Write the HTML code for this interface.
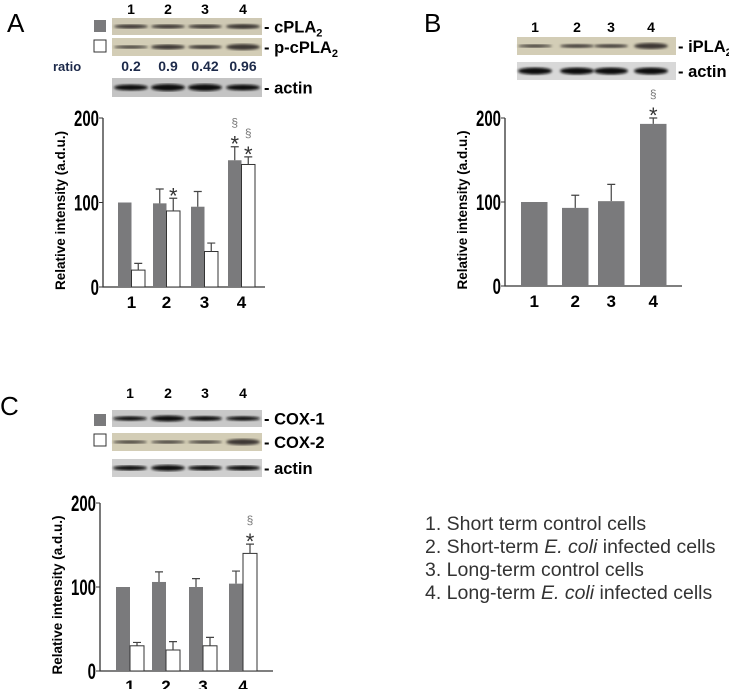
<!DOCTYPE html>
<html><head><meta charset="utf-8"><style>
body{margin:0;background:#fff}
svg{display:block;font-family:"Liberation Sans",sans-serif}
</style></head><body>
<svg id="fig" width="729" height="689" viewBox="0 0 729 689" xmlns="http://www.w3.org/2000/svg">
<defs><filter id="blur"><feGaussianBlur stdDeviation="1.2"/></filter></defs>
<g id="root"></g>
<g font-size="19.5" fill="#333">
<text x="425" y="530">1. Short term control cells</text>
<text x="425" y="553">2. Short-term <tspan font-style="italic">E. coli</tspan> infected cells</text>
<text x="425" y="576">3. Long-term control cells</text>
<text x="425" y="599">4. Long-term <tspan font-style="italic">E. coli</tspan> infected cells</text>
</g>
</svg>
<script>
const categories = ["1","2","3","4"];
const yTicks = [0,100,200];
const aGrey = [100,99,95,150];
const aGreyErr = [0,17,18,16];
const aWhite = [20,90,42,145];
const aWhiteErr = [8,15,10,9];
const bGrey = [100,93,101,193];
const bGreyErr = [0,15,20,7];
const cGrey = [100,106,100,104];
const cGreyErr = [0,12,10,15];
const cWhite = [30,25,30,140];
const cWhiteErr = [4,10,10,11];
const ratios = ["0.2","0.9","0.42","0.96"];

const NS="http://www.w3.org/2000/svg";
const root=document.getElementById('root');
function mk(tag,attrs,parent,text){const e=document.createElementNS(NS,tag);for(const k in attrs)e.setAttribute(k,attrs[k]);if(text!==undefined)e.textContent=text;(parent||root).appendChild(e);return e;}

function chart(name,ax,y0,y200,xEnd,groupX,barW,series,errs,marks){
  const g=mk('g',{});
  
  
  const sy=v=>y0-(y0-y200)*v/200;
  const axis=mk('path',{d:`M${ax} ${y200}V${y0}H${xEnd}`,stroke:'#333','stroke-width':1.3,fill:'none'},g);
  
  
  yTicks.forEach(t=>{
    mk('line',{x1:ax-4,x2:ax,y1:sy(t),y2:sy(t),stroke:'#333'},g);
    const tx=mk('text',{x:ax-4,y:sy(t)+8,'text-anchor':'end','font-size':22,'font-weight':'bold',transform:`translate(${ax-4} 0) scale(0.68 1) translate(${-(ax-4)} 0)`},g,String(t));
    
    
  });
  const yl=mk('text',{x:0,y:0,'font-size':13.5,'font-weight':'bold','text-anchor':'middle',transform:`translate(${ax-38} ${(y0+y200)/2+8}) rotate(-90)`},g,'Relative intensity (a.d.u.)');
  
  
  categories.forEach((c,i)=>{
    const n=series.length;
    const tl=mk('text',{x:groupX[i]+(n*barW)/2,y:y0+21,'text-anchor':'middle','font-size':17,'font-weight':'bold'},g,c);
    
    
    series.forEach((s,k)=>{
      const x=groupX[i]+k*barW;
      const v=s.vals[i];
      const r=mk('rect',{x:x,y:sy(v),width:barW,height:y0-sy(v),fill:s.fill,stroke:s.fill==='#fff'?'#333':'none','stroke-width':1},g);
      
      
      const e=errs[k][i];
      if(e>0){
        const cx=x+barW/2,top=sy(v+e);
        const el=mk('path',{d:`M${cx} ${sy(v)}V${top}M${cx-4} ${top}H${cx+4}`,stroke:'#444','stroke-width':1.2,fill:'none'},g);
        
        
      }
      const m=marks[k]&&marks[k][i];
      if(m){
        const cx=x+barW/2,top=sy(v+e);
        const st=mk('text',{x:cx,y:top+5,'text-anchor':'middle','font-size':22,fill:'#333'},g,'*');
        
        
        if(m.includes('§')){
          const sc=mk('text',{x:cx,y:top-20,'text-anchor':'middle','font-size':12,fill:'#777'},g,'§');
          
          
        }
      }
    });
  });
}

function blot(name,x,y,w,h,bg,lanes,bands,dark,label){
  const g=mk('g',{});
  
  
  mk('rect',{x,y,width:w,height:h,fill:bg},g);
  lanes.forEach((lx,i)=>{
    mk('ellipse',{cx:lx,cy:y+h/2,rx:17,ry:bands[i],fill:dark,filter:'url(#blur)'},g);
  });
  const t=mk('text',{x:x+w+2,y:y+h/2+6,'font-size':16.5,'font-weight':'bold'},g);
  t.innerHTML=label;
  
  
}
function laneLabels(xs,y){xs.forEach((x,i)=>{const t=mk('text',{x,y,'text-anchor':'middle','font-size':14,'font-weight':'bold'},root,categories[i]);});}
function letter(t,x,y){const e=mk('text',{x,y,'font-size':26},root,t);}
function swatch(x,y,fill){const r=mk('rect',{x,y,width:12,height:12,fill,stroke:fill==='#fff'?'#333':'none'},root);}

// Panel A
letter('A',7,32);
const laneA=[131,168,205,243];
laneLabels(laneA,14);
swatch(94,20,'#7a7a7c');swatch(94,40,'#fff');
blot('blot-cpla2',112,18,150,17,'#cfc9b4',laneA,[2,2,2,2.5],'#3a3630','- cPLA<tspan font-size="11" dy="4">2</tspan>');
blot('blot-p-cpla2',112,38,150,18,'#d3cdb6',laneA,[1.5,2.5,2,3],'#3a3630','- p-cPLA<tspan font-size="11" dy="4">2</tspan>');
const rl=mk('text',{x:53,y:71,'font-size':13,'font-weight':'bold',fill:'#1d2a4a'},root,'ratio');
ratios.forEach((r,i)=>{const t=mk('text',{x:laneA[i],y:71,'text-anchor':'middle','font-size':14,'font-weight':'bold',fill:'#1d2a4a'},root,r);});
blot('blot-actin-a',112,78,150,19,'#c4c4c4',laneA,[3,3.5,3.5,3],'#111','- actin');
chart('chart-a',103,287,118,265,[118,153,191,228],13.5,[{key:'cpla2',vals:aGrey,fill:'#7a7a7c'},{key:'p-cpla2',vals:aWhite,fill:'#fff'}],[aGreyErr,aWhiteErr],[[null,null,null,'§*'],[null,'*',null,'§*']]);

// Panel B
letter('B',424,32);
const laneB=[535,577,611,651];
laneLabels(laneB,32);
blot('blot-ipla2',517,37,159,18,'#d3cdb6',laneB,[1.5,1.8,1.8,3],'#3a3630','- iPLA<tspan font-size="11" dy="4">2</tspan>');
blot('blot-actin-b',517,62,159,18,'#d8d8d8',laneB,[3.5,3.5,3.5,3.5],'#111','- actin');
chart('chart-b',505,286,118,682,[521,562,598,640],26.5,[{key:'ipla2',vals:bGrey,fill:'#7a7a7c'}],[bGreyErr],[[null,null,null,'§*']]);

// Panel C
letter('C',0,415);
const laneC=[130,168,205,243];
laneLabels(laneC,398);
swatch(94,414,'#7a7a7c');swatch(94,434,'#fff');
blot('blot-cox1',112,410,150,17,'#c8c8c8',laneC,[2.2,3,2.5,2.2],'#111','- COX-1');
blot('blot-cox2',112,433,150,18,'#d3cdb6',laneC,[1.5,1.5,1.5,3],'#3a3630','- COX-2');
blot('blot-actin-c',112,459,150,18,'#cfcfcf',laneC,[2.5,3,2.5,2.5],'#111','- actin');
chart('chart-c',100,671,503,273,[116,152,189,229],14,[{key:'cox1',vals:cGrey,fill:'#7a7a7c'},{key:'cox2',vals:cWhite,fill:'#fff'}],[cGreyErr,cWhiteErr],[[null,null,null,null],[null,null,null,'§*']]);
</script>
</body></html>
